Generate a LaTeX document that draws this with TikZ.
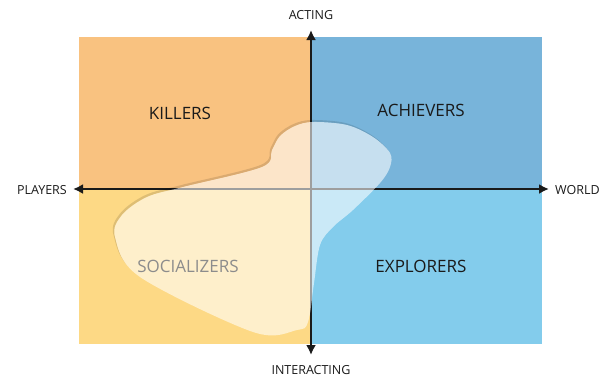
\documentclass[tikz,border=0pt]{standalone}
\usepackage{fontspec}
\setmainfont{Open Sans}
\usepackage{xcolor}
\usetikzlibrary{arrows.meta}

\definecolor{killcol}{HTML}{F9C280}
\definecolor{achcol}{HTML}{78B4DA}
\definecolor{soccol}{HTML}{FDD985}
\definecolor{expcol}{HTML}{83CCEC}
\definecolor{inkcol}{HTML}{1A1A1A}

\newcommand{\blobpath}{plot[smooth cycle, tension=0.55] coordinates {
  (313,122) (347,125) (373,137) (390,153) (390,167) (380,183) (353,210)
  (333,227) (320,245) (314,283) (308,322) (297,330) (253,332)
  (140,277) (115,237) (122,215) (147,197) (183,187) (262,167)
  (272,150) (280,136) (295,126)}}

\begin{document}
\begin{tikzpicture}[x=1pt, y=-1pt,
  axis/.style={line width=2.6pt, inkcol, {Latex[length=10pt,width=10pt]}-{Latex[length=10pt,width=10pt]}},
  axlabel/.style={font=\fontsize{12.5}{14}\selectfont, text=inkcol, inner sep=1pt},
  typelabel/.style={font=\fontsize{17}{20}\selectfont, text=inkcol, inner sep=1pt}]
\useasboundingbox (0,0) rectangle (601,380);

% Quadrants
\fill[killcol] (79,37) rectangle (311,189);
\fill[achcol] (311,37) rectangle (542,189);
\fill[soccol] (79,189) rectangle (311,344);
\fill[expcol] (311,189) rectangle (542,344);

% Axis ends
\coordinate (top) at (311,30);
\coordinate (bot) at (311,355);
\coordinate (lft) at (73,189);
\coordinate (rgt) at (549,189);

% Axes
\draw[axis] (bot) -- (top);
\draw[axis] (lft) -- (rgt);

% Socializers area, shadow only outside
\begin{scope}[even odd rule]
  \clip (0,0) rectangle (601,380) \blobpath;
  \fill[black, opacity=0.12, xshift=-1.5pt, yshift=2pt] \blobpath;
\end{scope}
\fill[white, opacity=0.58] \blobpath;

% Labels
\node[axlabel] (acting) at (311,15) {ACTING};
\node[axlabel] (interacting) at (311,370) {INTERACTING};
\node[axlabel, anchor=east] (players) at (68,190) {PLAYERS};
\node[axlabel, anchor=west] (world) at (554,190) {WORLD};

\node[typelabel] (killers) at (180,113) {KILLERS};
\node[typelabel] (achievers) at (421,110) {ACHIEVERS};
\node[typelabel, text=gray!90] (socializers) at (188,266) {SOCIALIZERS};
\node[typelabel] (explorers) at (421,266) {EXPLORERS};
\end{tikzpicture}
\end{document}
